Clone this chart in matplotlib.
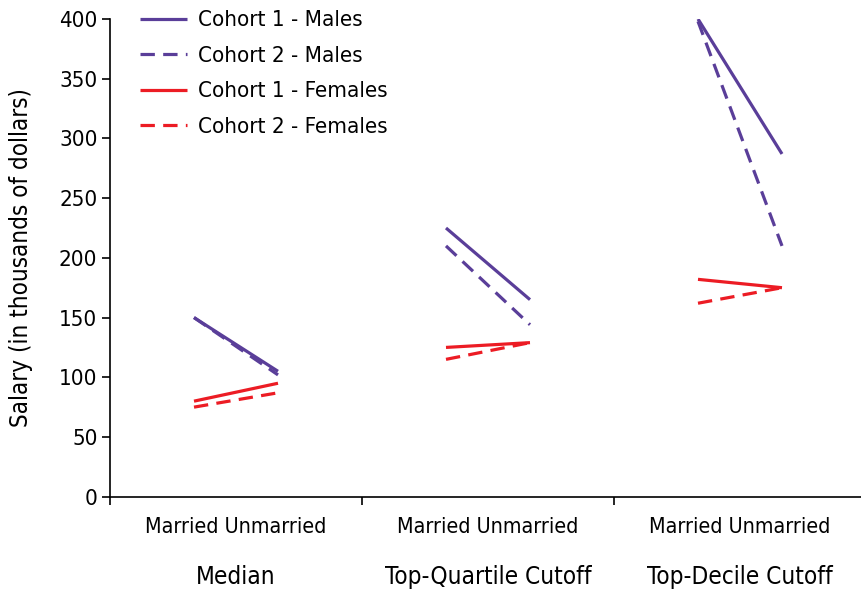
import matplotlib
matplotlib.use('Agg')
import matplotlib.pyplot as plt
import matplotlib.transforms as mtransforms

plt.rcParams['font.family'] = ['DejaVu Sans']
plt.rcParams['font.stretch'] = 'condensed'

# data: salary (thousands of dollars), married -> unmarried, per group
groups = ['Median', 'Top-Quartile Cutoff', 'Top-Decile Cutoff']
c1_males = [(150, 105), (225, 165), (400, 287)]
c2_males = [(150, 102), (210, 144), (398, 210)]
c1_females = [(80, 95), (125, 129), (182, 175)]
c2_females = [(75, 87), (115, 129), (162, 175)]

series = [
    ('Cohort 1 - Males', c1_males, '#5a3e99', '-'),
    ('Cohort 2 - Males', c2_males, '#5a3e99', '--'),
    ('Cohort 1 - Females', c1_females, '#ec1c24', '-'),
    ('Cohort 2 - Females', c2_females, '#ec1c24', '--'),
]

W, H = 861, 591
fig = plt.figure(figsize=(W / 100, H / 100), dpi=100)
ax = fig.add_axes([110 / W, 1 - 496.7 / H, 751 / W, 477.7 / H])

for label, vals, color, ls in series:
    for g, (m, u) in enumerate(vals):
        line, = ax.plot([g + 1 / 3, g + 2 / 3], [m, u], color=color, lw=2.3,
                        solid_capstyle='butt', dash_capstyle='butt',
                        label=label if g == 0 else None)
        if ls == '--':
            line.set_dashes((4.5, 2.6))

ax.set_xlim(0, 751 / 252)
ax.set_ylim(0, 400)
ax.set_yticks(range(0, 401, 50))
ax.set_xticks([0, 1, 2])
ax.set_xticklabels([])
ax.tick_params(axis='y', labelsize=16, length=6, width=1.2, pad=3)
ax.tick_params(axis='x', length=6, width=1.2)
for s in ['top', 'right']:
    ax.spines[s].set_visible(False)
for s in ['left', 'bottom']:
    ax.spines[s].set_linewidth(1.2)

ax.set_ylabel('Salary (in thousands of dollars)', fontsize=17.4)
ax.yaxis.set_label_coords(-77 / 751, 0.5)

trans = mtransforms.blended_transform_factory(ax.transData, fig.transFigure)
for g, name in enumerate(groups):
    ax.text(g + 0.5, 1 - 527 / H, 'Married Unmarried', transform=trans,
            ha='center', va='center', fontsize=15.4)
    ax.text(g + 0.5, 1 - 577 / H, name, transform=trans,
            ha='center', va='center', fontsize=17.5)

ax.legend(loc='upper left', bbox_to_anchor=(10 / 751, 1.06), frameon=False,
          fontsize=16, handlelength=2.1, labelspacing=0.7, handletextpad=0.5)

fig.savefig('out.png', dpi=100)
